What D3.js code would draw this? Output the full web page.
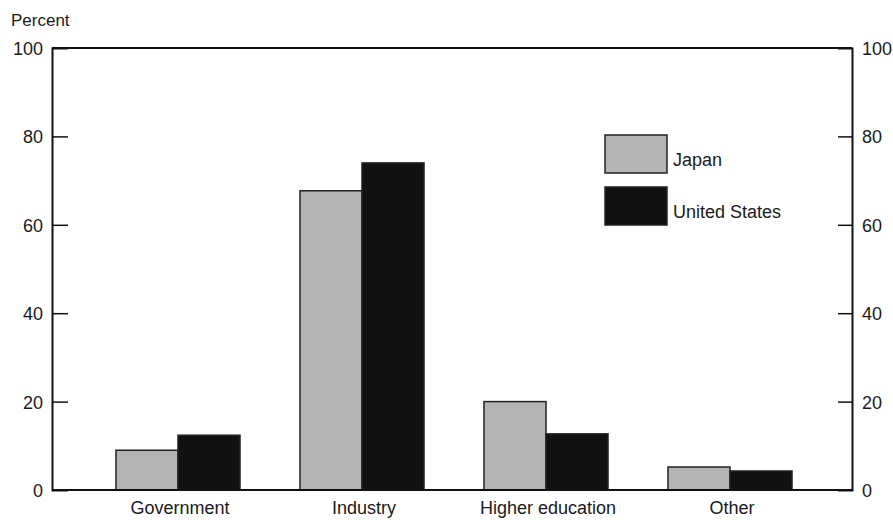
<!DOCTYPE html>
<html><head><meta charset="utf-8">
<script src="https://cdn.jsdelivr.net/npm/d3@7"></script>
<style>
body{margin:0;background:#fff;}
text{font-family:"Liberation Sans",Arial,sans-serif;fill:#1a1a1a;}
</style></head>
<body>
<svg id="c" width="893" height="520"></svg>
<script>
const categories = ["Government","Industry","Higher education","Other"];
const seriesNames = ["Japan","United States"];
const japan = [9, 67.7, 20, 5.2];
const unitedStates = [12.4, 74, 12.7, 4.3];
const tickValues = [0,20,40,60,80,100];
const colors = {"Japan":"#b4b4b4","United States":"#111111"};

const svg = d3.select("#c");
const L=52, R=852, T=48, B=490;
const y = d3.scaleLinear().domain([0,100]).range([B,T]);
const x0 = d3.scaleBand().domain(categories).range([86,822]).paddingInner(0.326).paddingOuter(0.163);
const x1 = d3.scaleBand().domain(seriesNames).range([0,x0.bandwidth()]);

const data = categories.map((c,i)=>({cat:c, vals:[{s:"Japan",v:japan[i]},{s:"United States",v:unitedStates[i]}]}));

// bars
const g = svg.append("g");
data.forEach(d=>{
  d.vals.forEach(e=>{
    g.append("rect")
      .attr("x", x0(d.cat)+x1(e.s))
      .attr("y", y(e.v))
      .attr("width", x1.bandwidth())
      .attr("height", B - y(e.v))
      .attr("fill", colors[e.s])
      .attr("stroke", "#222").attr("stroke-width", 1.5);
  });
});

// frame lines
svg.append("line").attr("x1",L).attr("x2",R).attr("y1",T).attr("y2",T).attr("stroke","#111").attr("stroke-width",2);
svg.append("line").attr("x1",L).attr("x2",R).attr("y1",B).attr("y2",B).attr("stroke","#111").attr("stroke-width",2);

// left axis
const la = svg.append("g").attr("transform",`translate(${L},0)`)
  .call(d3.axisRight(y).tickValues(tickValues).tickSize(16).tickFormat(""));
la.select(".domain").attr("stroke","#111").attr("stroke-width",2);
la.selectAll(".tick line").attr("stroke","#111").attr("stroke-width",1.5);
la.selectAll(".tick").filter(d=>d===0||d===100).select("line").remove();
svg.append("g").selectAll("text").data(tickValues).join("text")
  .attr("x",L-9).attr("y",d=>y(d)+7).attr("text-anchor","end")
  .attr("font-size",18).text(d=>d);

// right axis
const ra = svg.append("g").attr("transform",`translate(${R},0)`)
  .call(d3.axisLeft(y).tickValues(tickValues).tickSize(14).tickFormat(""));
ra.select(".domain").attr("stroke","#111").attr("stroke-width",2);
ra.selectAll(".tick line").attr("stroke","#111").attr("stroke-width",1.5);
ra.selectAll(".tick").filter(d=>d===0||d===100).select("line").remove();
svg.append("g").selectAll("text").data(tickValues).join("text")
  .attr("x",R+10).attr("y",d=>y(d)+7).attr("text-anchor","start")
  .attr("font-size",18).text(d=>d);

// y title
svg.append("text").attr("x",11).attr("y",26).attr("font-size",17).text("Percent");

// category labels
svg.append("g").selectAll("text").data(categories).join("text")
  .attr("x",d=>x0(d)+x0.bandwidth()/2+2).attr("y",514).attr("text-anchor","middle")
  .attr("font-size",18).text(d=>d);

// legend
const lg = svg.append("g");
seriesNames.forEach((s,i)=>{
  const yy = 135 + i*52;
  lg.append("rect").attr("x",605).attr("y",yy).attr("width",62).attr("height",38)
    .attr("fill",colors[s]).attr("stroke","#222").attr("stroke-width",1.5);
  lg.append("text").attr("x",673).attr("y",yy+31).attr("font-size",18).text(s);
});
</script>
</body></html>
